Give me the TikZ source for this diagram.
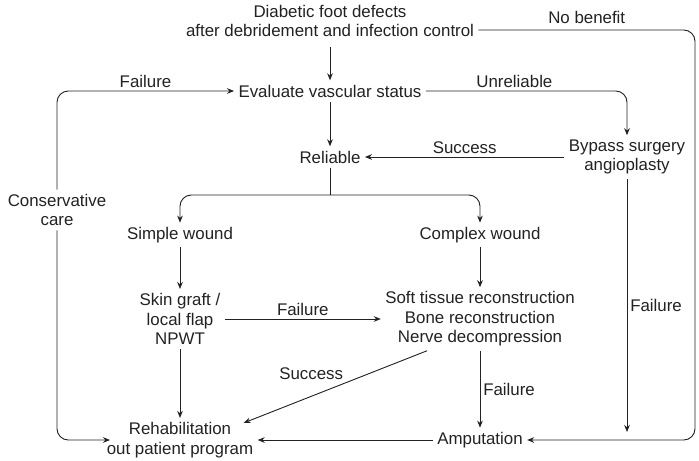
\documentclass[tikz,border=0pt]{standalone}
\usepackage{fontspec}
\setmainfont{Liberation Sans}
\usepackage{tikz}
\usetikzlibrary{arrows.meta, positioning, calc}

\definecolor{ink}{HTML}{222222}

\begin{document}
\begin{tikzpicture}[x=0.025cm, y=-0.025cm,
    every node/.style={font=\fontsize{12}{13.8}\selectfont, text=ink, align=center, inner sep=3pt},
    arr/.style={-{Stealth[length=5pt, width=4pt]}, draw=ink, line width=0.65pt},
    lbl/.style={inner sep=2pt}]
\useasboundingbox (0,0) rectangle (699,461);

% Entry and vascular check
\node (top) at (330,21) {Diabetic foot defects\\after debridement and infection control};
\node (evs) at (330,91) {Evaluate vascular status};
\node (reliable) at (330,157) {Reliable};
\node (bypass) at (627,157) {Bypass surgery\\angioplasty};
\node (cons) at (57,210) {Conservative\\care};

% Wound types
\node (simple) at (180,235) {Simple wound};
\node (complex) at (480,235) {Complex wound};
\node (skin) at (180,319) {Skin graft /\\local flap\\NPWT};
\node (soft) at (480,319) {Soft tissue reconstruction\\Bone reconstruction\\Nerve decompression};

% Outcomes
\node (rehab) at (180,440) {Rehabilitation\\out patient program};
\node (amp) at (480,440) {Amputation};

\coordinate (split) at (330,195);
\coordinate (rtop) at (695,30);

% Main flow
\draw[arr, shorten <=4pt] (top) -- (evs);
\draw[arr] (evs) -- (reliable);
\draw[arr, rounded corners=8] (evs.east) -| (bypass.north)
    node[lbl, pos=0.22, above] {Unreliable};
\draw[arr] (bypass.west) -- (reliable.east) node[lbl, midway, above] {Success};
\draw[draw=ink, line width=0.65pt] (reliable.south) -- (split);
\draw[arr, rounded corners=8] (split) -| (simple.north);
\draw[arr, rounded corners=8] (split) -| (complex.north);
\draw[arr] (simple) -- (skin);
\draw[arr] (complex) -- (soft);
\draw[arr] (skin.east) -- (soft.west) node[lbl, midway, above] {Failure};
\draw[arr] (skin) -- (rehab);
\draw[arr] ($(soft.south)+(-53,0)$) -- ($(rehab.north east)+(-14,5)$)
    node[lbl, pos=0.44, above left] {Success};
\draw[arr] (soft) -- (amp) node[lbl, midway, right] {Failure};
\draw[arr] (amp.west) -- (rehab.east);

% Loops round the sides
\draw[arr, rounded corners=8] (cons.north) |- (evs.west)
    node[lbl, pos=0.75, above] {Failure};
\draw[arr, rounded corners=8] (cons.south) |- ($(rehab.center)+(-70,0)$);
\draw[arr] (bypass.south) -- ($(bypass.south |- amp)+(0,-8)$)
    node[lbl, midway, right] {Failure};
\draw[arr, rounded corners=8] ($(top.east)+(0,9)$)
    -- node[lbl, midway, above=2pt] {No benefit} (rtop) |- (amp.east);
\end{tikzpicture}
\end{document}
